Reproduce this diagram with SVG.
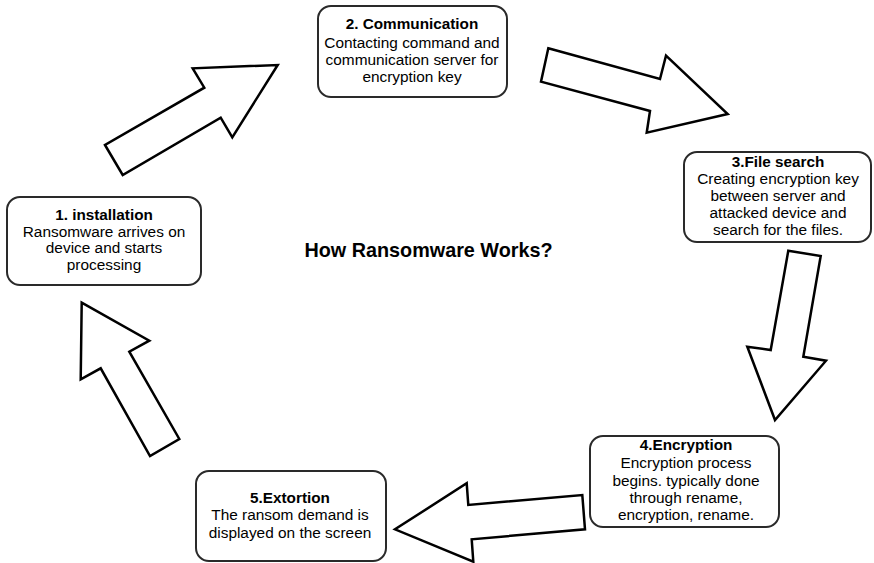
<svg xmlns="http://www.w3.org/2000/svg" width="874" height="563" viewBox="0 0 874 563">
<style>
.box{fill:#fff;stroke:#2a2a2a;stroke-width:2}
.arr{fill:#fff;stroke:#000;stroke-width:2.5;stroke-linejoin:miter}
text{font-family:"Liberation Sans",Arial,sans-serif;fill:#000;text-anchor:middle}
.t{font-size:15.3px;font-weight:bold}
.b{font-size:15.4px}
.main{font-size:19.8px;font-weight:bold}
</style>
<rect width="874" height="563" fill="#fff"/>
<g id="connectors">
<polygon class="arr" points="105,145 122.7,175 220.7,117.7 232.3,137.3 277.7,65 192.7,68.3 204.3,87.7"/>
<polygon class="arr" points="548.3,48.3 660,79 666,55.7 727.7,114 646.7,132.7 650,111 541,81.7"/>
<polygon class="arr" points="788.3,250.7 820.7,256 803.3,356.7 826,360.7 775,420 747.3,346.7 770.7,350"/>
<polygon class="arr" points="582.3,495 585,529.3 471.7,539.3 473.3,561.7 395,529.3 466.7,483.3 468.3,505"/>
<polygon class="arr" points="81.7,302.7 149.3,340.7 129.3,351.7 179.3,439 150,456 100.7,368.3 80.7,379.3"/>
</g>
<g id="node1">
<rect class="box" x="7" y="197" width="194" height="88" rx="13"/>
<text class="t" x="104" y="219.5">1. installation</text>
<text class="b" x="104" y="236.5">Ransomware arrives on</text>
<text class="b" x="104" y="253">device and starts</text>
<text class="b" x="104" y="269.5">processing</text>
</g>
<g id="node2">
<rect class="box" x="318" y="6" width="189" height="91" rx="13"/>
<text class="t" x="412" y="29">2. Communication</text>
<text class="b" x="412" y="47.5">Contacting command and</text>
<text class="b" x="412" y="64.5">communication server for</text>
<text class="b" x="412" y="81.5">encryption key</text>
</g>
<g id="node3">
<rect class="box" x="684" y="152" width="187" height="90" rx="13"/>
<text class="t" x="778" y="166.5">3.File search</text>
<text class="b" x="778" y="183.5">Creating encryption key</text>
<text class="b" x="778" y="200.5">between server and</text>
<text class="b" x="778" y="218">attacked device and</text>
<text class="b" x="778" y="235">search for the files.</text>
</g>
<g id="node4">
<rect class="box" x="590" y="436" width="189" height="91" rx="13"/>
<text class="t" x="686" y="450">4.Encryption</text>
<text class="b" x="686" y="468">Encryption process</text>
<text class="b" x="686" y="485.5">begins. typically done</text>
<text class="b" x="686" y="503">through rename,</text>
<text class="b" x="686" y="520">encryption, rename.</text>
</g>
<g id="node5">
<rect class="box" x="196" y="471" width="190" height="90" rx="13"/>
<text class="t" x="290" y="503">5.Extortion</text>
<text class="b" x="290" y="520">The ransom demand is</text>
<text class="b" x="290" y="537.5">displayed on the screen</text>
</g>
<g id="title">
<text class="main" x="428.5" y="257">How Ransomware Works?</text>
</g>
</svg>
